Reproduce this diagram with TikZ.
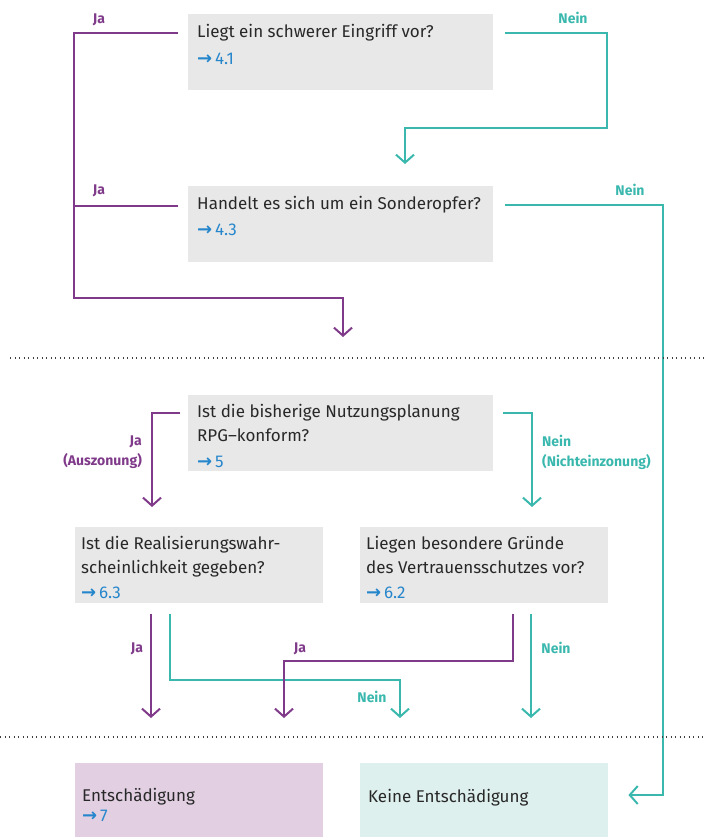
\documentclass[tikz,border=0pt]{standalone}
\usepackage{fontspec}
\setmainfont{Fira Sans}
\newfontfamily\pfeilfont{DejaVu Sans}
\usetikzlibrary{arrows.meta}
\definecolor{jafarbe}{RGB}{128,58,138}
\definecolor{neinfarbe}{RGB}{58,184,174}
\definecolor{kastengrau}{RGB}{232,232,232}
\definecolor{verweisblau}{RGB}{38,134,204}
\definecolor{jakasten}{RGB}{226,208,226}
\definecolor{neinkasten}{RGB}{222,240,238}
\definecolor{textgrau}{RGB}{40,40,40}
\newcommand{\verweis}[1]{{\color{verweisblau}{\pfeilfont\bfseries\fontsize{18}{18}\selectfont →}\,#1}}

\begin{document}
\begin{tikzpicture}[x=1pt,y=-1pt,
  kasten/.style={fill=kastengrau, anchor=north west, inner sep=0pt, minimum height=76pt},
  kastentext/.style={anchor=north west, align=left, inner sep=0pt, text=textgrau, font=\fontsize{17}{24}\selectfont},
  jalinie/.style={draw=jafarbe, line width=2pt},
  neinlinie/.style={draw=neinfarbe, line width=2pt},
  pfeil/.style={-{Straight Barb[length=8pt,width=18pt]}},
  marke/.style={inner sep=0pt, font=\fontsize{14}{20}\selectfont\bfseries},
  trenner/.style={draw=black!75, line width=1.6pt, dash pattern=on 1.4pt off 3.1pt}]
  \useasboundingbox (0,0) rectangle (705,837);

  \node[kasten, minimum width=305pt] (q1) at (188,14) {};
  \node[kastentext] (q1t) at ([shift={(9,10)}]q1.north west) {Liegt ein schwerer Eingriff vor?\\[3pt]\verweis{4.1}};
  \node[kasten, minimum width=305pt] (q2) at (188,186) {};
  \node[kastentext] (q2t) at ([shift={(9,10)}]q2.north west) {Handelt es sich um ein Sonderopfer?\\[2pt]\verweis{4.3}};
  \node[kasten, minimum width=305pt] (q3) at (188,395) {};
  \node[kastentext] (q3t) at ([shift={(9,9)}]q3.north west) {Ist die bisherige Nutzungsplanung\\RPG–konform?\\[2pt]\verweis{5}};
  \node[kasten, minimum width=248pt] (q4) at (75,527) {};
  \node[kastentext] (q4t) at ([shift={(6,9)}]q4.north west) {Ist die Realisierungswahr-\\scheinlichkeit gegeben?\\[1pt]\verweis{6.3}};
  \node[kasten, minimum width=248pt] (q5) at (360,527) {};
  \node[kastentext] (q5t) at ([shift={(6,9)}]q5.north west) {Liegen besondere Gründe\\des Vertrauensschutzes vor?\\[1pt]\verweis{6.2}};
  \node[kasten, fill=jakasten, minimum width=248pt, minimum height=74pt] (e1) at (75,763) {};
  \node[kastentext, font=\fontsize{17}{20}\selectfont] (e1t) at ([shift={(7,25)}]e1.north west) {Entschädigung\\\verweis{7}};
  \node[kasten, fill=neinkasten, minimum width=248pt, minimum height=74pt] (e2) at (360,763) {};
  \node[kastentext] (e2t) at ([shift={(8,26)}]e2.north west) {Keine Entschädigung};

  \coordinate (sammel) at (343,337);
  \coordinate (zuq2) at ([shift={(217,-22)}]q2.north west);
  \coordinate (zuq4) at ([shift={(77,-20)}]q4.north west);
  \coordinate (zuq5) at ([shift={(172,-20)}]q5.north west);
  \coordinate (zue2) at ([shift={(20,32)}]e2.north east);

  \draw[jalinie, pfeil] ([shift={(-10,19)}]q1.north west) -| (74,298) -| (sammel);
  \draw[jalinie] ([shift={(-10,20)}]q2.north west) -- ++(-104,0);
  \draw[neinlinie, pfeil] ([shift={(12,19)}]q1.north east) -| (607,128) -| (zuq2);
  \draw[neinlinie, pfeil] ([shift={(12,19)}]q2.north east) -- ++(158,0) |- (zue2);
  \draw[jalinie, pfeil] ([shift={(-8,18)}]q3.north west) -| (zuq4);
  \draw[neinlinie, pfeil] ([shift={(10,18)}]q3.north east) -| (zuq5);
  \draw[jalinie, pfeil] ([shift={(76,11)}]q4.south west) -- ([shift={(76,-45)}]e1.north west);
  \draw[neinlinie, pfeil] ([shift={(95,11)}]q4.south west) -- ++(0,66) -| ([shift={(40,-45)}]e2.north west);
  \draw[jalinie, pfeil] ([shift={(153,11)}]q5.south west) -- ++(0,47) -| ([shift={(209,-45)}]e1.north west);
  \draw[neinlinie, pfeil] ([shift={(171,11)}]q5.south west) -- ([shift={(171,-45)}]e2.north west);

  \node[marke, text=jafarbe] (ja1) at (99,20) {Ja};
  \node[marke, text=jafarbe] (ja2) at (99,191) {Ja};
  \node[marke, text=neinfarbe] (nein1) at (573,18) {Nein};
  \node[marke, text=neinfarbe] (nein2) at (630,190) {Nein};
  \node[marke, text=jafarbe, align=right, anchor=east] (ja3) at (142,452) {Ja\\(Auszonung)};
  \node[marke, text=neinfarbe, align=left, anchor=west] (nein3) at (542,452) {Nein\\(Nichteinzonung)};
  \node[marke, text=jafarbe] (ja4) at (137,649) {Ja};
  \node[marke, text=jafarbe] (ja5) at (300,649) {Ja};
  \node[marke, text=neinfarbe] (nein4) at (372,697) {Nein};
  \node[marke, text=neinfarbe] (nein5) at (556,648) {Nein};

  \draw[trenner] (10,358) -- (705,358);
  \draw[trenner] (0,737) -- (705,737);
\end{tikzpicture}
\end{document}
